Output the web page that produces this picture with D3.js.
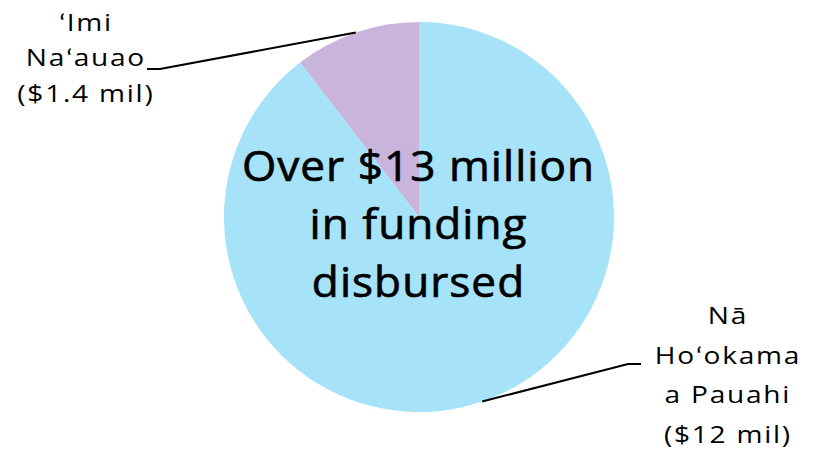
<!DOCTYPE html>
<html>
<head>
<meta charset="utf-8">
<script src="https://cdn.jsdelivr.net/npm/d3@7"></script>
<style>
  html, body { margin: 0; padding: 0; background: #ffffff; }
  svg { display: block; }
  text { font-family: "Open Sans", Lato, sans-serif; fill: #000; }
</style>
</head>
<body>
<svg id="chart" width="818" height="450"></svg>
<script>
// Data
const programs = ["Nā Hoʻokama a Pauahi", "ʻImi Naʻauao"];
const amounts = [12, 1.4];             // $ millions
const labelLines = [
  ["Nā", "Hoʻokama", "a Pauahi", "($12 mil)"],
  ["ʻImi", "Naʻauao", "($1.4 mil)"]
];
const colors = ["#a6e2f8", "#c9b4dc"];
const centerLines = ["Over $13 million", "in funding", "disbursed"];

const svg = d3.select("#chart");
const cx = 419, cy = 217, r = 195;

const data = programs.map((p, i) => ({ name: p, value: amounts[i], lines: labelLines[i], color: colors[i] }));
const total = d3.sum(amounts);
const offset = 2 * Math.PI * amounts[1] / total;

const pie = d3.pie().sort(null).value(d => d.value)
  .startAngle(-offset).endAngle(2 * Math.PI - offset);
const ordered = [data[1], data[0]];
const arcs = pie(ordered);
const arc = d3.arc().innerRadius(0).outerRadius(r);

const g = svg.append("g").attr("transform", `translate(${cx},${cy})`);
g.selectAll("path").data(arcs).join("path")
  .attr("d", arc)
  .attr("fill", d => d.data.color);

const line = d3.line();
function leader(angle, endX, endY, tailX) {
  const px = cx + r * Math.sin(angle);
  const py = cy - r * Math.cos(angle);
  return line([[px, py], [endX, endY], [tailX, endY]]);
}
const aImi = arcs[0];
const aNa = arcs[1];
const imiAngle = -0.33;
const naAngle = Math.PI - 0.33;
svg.append("path").attr("d", leader(imiAngle, 160, 69, 147))
  .attr("fill", "none").attr("stroke", "#000").attr("stroke-width", 2);
svg.append("path").attr("d", leader(naAngle, 628, 364, 641))
  .attr("fill", "none").attr("stroke", "#000").attr("stroke-width", 2);

function textBlock(lines, x, y0, dy, size, sx, ls, sw) {
  const t = svg.append("text").attr("text-anchor", "middle")
    .attr("transform", `translate(${x},${y0}) scale(${sx},1)`)
    .attr("font-size", size).attr("letter-spacing", ls);
  if (sw > 0) t.attr("stroke", "#000").attr("stroke-width", sw);
  lines.forEach((l, i) => {
    t.append("tspan").attr("x", ls / 2).attr("y", i * dy).text(l);
  });
}
textBlock(aImi.data.lines, 85, 31, 35.5, 24, 1.17, 1.5, 0);
textBlock(aNa.data.lines, 727, 324, 39.7, 24, 1.17, 1.5, 0);
textBlock(centerLines, 418, 181, 58, 42, 1.05, 1, 0.7);
</script>
</body>
</html>
